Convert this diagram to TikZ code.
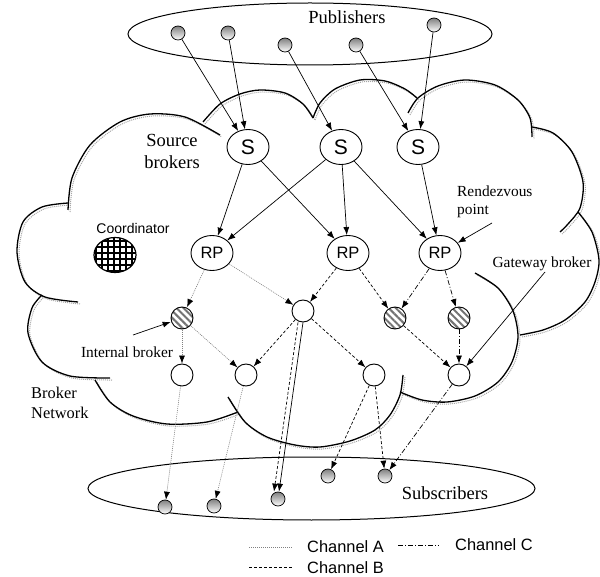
\documentclass[tikz,border=0pt]{standalone}
\usepackage{fontspec}
\setmainfont{Liberation Serif}
\setsansfont{Liberation Sans}
\usetikzlibrary{arrows.meta,shapes.geometric,patterns.meta}

\begin{document}
\begin{tikzpicture}[x=1pt,y=-1pt,
  cloudline/.style={line width=1.3pt,black},
  cloudshade/.style={line width=1pt,black!35,densely dotted},
  pubsub/.style={circle,draw,line width=0.7pt,minimum size=14pt,inner sep=0pt,top color=black!50,bottom color=white},
  brk/.style={ellipse,draw,line width=0.9pt,fill=white,minimum width=42pt,minimum height=35pt,inner sep=0pt},
  plainbrk/.style={circle,draw,line width=0.9pt,fill=white,minimum size=22pt,inner sep=0pt},
  hatchbrk/.style={circle,draw,line width=0.9pt,minimum size=22pt,inner sep=0pt,
    pattern={Lines[angle=-45,distance=5pt,line width=2pt]},pattern color=black!55},
  arr/.style={-{Latex[length=8pt,width=6pt,color=black]}},
  solidarr/.style={arr,line width=0.7pt,black},
  chanA/.style={gray,line width=0.6pt,dash pattern=on 1pt off 1pt},
  chanB/.style={black,line width=0.7pt,dash pattern=on 3pt off 2pt},
  chanC/.style={black,line width=0.7pt,dash pattern=on 5pt off 2pt on 1pt off 2pt},
  serifbig/.style={font=\fontsize{18.5}{22}\selectfont},
  serifmid/.style={font=\fontsize{15.4}{18}\selectfont},
  legendtxt/.style={font=\sffamily\fontsize{16.4}{18}\selectfont,anchor=west,inner sep=0pt}
]
\useasboundingbox (0,0) rectangle (600,577);

% publisher and subscriber groups
\draw[line width=1pt] (310,34) ellipse [x radius=182,y radius=31];
\draw[line width=1pt] (311.5,488.5) ellipse [x radius=223.5,y radius=31.5];

% broker network cloud: soft shadow first, then the outline arcs
\begin{scope}[shift={(2,2)}]
\foreach \pts in {
  {(68,210) (72,178) (90,145) (120,122) (150,114) (185,117) (220,135)},
  {(203,122) (220,104) (240,94) (260,90) (285,93) (303,104) (313,118)},
  {(313,118) (320,103) (335,89) (360,80) (385,81) (405,89) (417,98)},
  {(408,113) (418,98) (438,86) (465,80) (495,85) (518,100) (530,118) (532,137)},
  {(532,127) (553,133) (572,152) (583,182) (580,208) (568,224) (560,232)},
  {(578,212) (592,232) (599,260) (595,282) (585,302) (565,320) (543,330) (520,335)},
  {(475,273) (498,288) (513,311) (518,337) (512,362) (498,382) (475,396) (447,402) (422,400) (400,392)},
  {(403,375) (400,395) (390,415) (375,430) (350,441) (320,447) (295,445) (267,437) (245,422) (228,397)},
  {(238,412) (207,422) (167,424) (133,416) (110,402) (95,380)},
  {(110,378) (70,376) (42,362) (28,333) (32,308) (42,295)},
  {(78,302) (45,297) (25,282) (17,252) (23,222) (42,207) (68,203)}}
  \draw[cloudshade] plot[smooth] coordinates \pts;
\end{scope}
\foreach \pts in {
  {(68,210) (72,178) (90,145) (120,122) (150,114) (185,117) (220,135)},
  {(203,122) (220,104) (240,94) (260,90) (285,93) (303,104) (313,118)},
  {(313,118) (320,103) (335,89) (360,80) (385,81) (405,89) (417,98)},
  {(408,113) (418,98) (438,86) (465,80) (495,85) (518,100) (530,118) (532,137)},
  {(532,127) (553,133) (572,152) (583,182) (580,208) (568,224) (560,232)},
  {(578,212) (592,232) (599,260) (595,282) (585,302) (565,320) (543,330) (520,335)},
  {(475,273) (498,288) (513,311) (518,337) (512,362) (498,382) (475,396) (447,402) (422,400) (400,392)},
  {(403,375) (400,395) (390,415) (375,430) (350,441) (320,447) (295,445) (267,437) (245,422) (228,397)},
  {(238,412) (207,422) (167,424) (133,416) (110,402) (95,380)},
  {(110,378) (70,376) (42,362) (28,333) (32,308) (42,295)},
  {(78,302) (45,297) (25,282) (17,252) (23,222) (42,207) (68,203)}}
  \draw[cloudline] plot[smooth] coordinates \pts;

% text labels
\node[serifbig] (publab) at (347,17) {Publishers};
\node[serifbig] (sublab) at (445,493) {Subscribers};
\node[serifbig,align=center] (srclab) at (172,151) {Source\\brokers};
\node[serifmid,align=left,anchor=west,inner sep=0pt] (rplab) at (457,202) {Rendezvous\\point};
\node[serifmid] (gwlab) at (542,264) {Gateway broker};
\node[serifmid] (intlab) at (127,352) {Internal broker};
\node[font=\fontsize{16.4}{20}\selectfont,align=left,anchor=west,inner sep=0pt] (netlab) at (31,403) {Broker\\Network};
\node[font=\sffamily\fontsize{14}{16}\selectfont] (coordlab) at (133,228) {Coordinator};

% publishers
\node[pubsub] (p1) at (178,33) {};
\node[pubsub] (p2) at (228,33) {};
\node[pubsub] (p3) at (285,45) {};
\node[pubsub] (p4) at (356,45) {};
\node[pubsub] (p5) at (434,25) {};

% source brokers and rendezvous points
\node[brk,font=\sffamily\fontsize{21}{21}\selectfont] (s1) at (248,147) {S};
\node[brk,font=\sffamily\fontsize{21}{21}\selectfont] (s2) at (341,147) {S};
\node[brk,font=\sffamily\fontsize{21}{21}\selectfont] (s3) at (418,147) {S};
\node[brk,font=\sffamily\fontsize{16.5}{16.5}\selectfont] (rp1) at (212,253) {RP};
\node[brk,font=\sffamily\fontsize{16.5}{16.5}\selectfont] (rp2) at (348,253) {RP};
\node[brk,font=\sffamily\fontsize{16.5}{16.5}\selectfont] (rp3) at (440,253) {RP};

% coordinator
\node[ellipse,draw,line width=1.2pt,minimum width=42pt,minimum height=35pt,inner sep=0pt,
  pattern={Hatch[angle=0,distance=6pt,line width=1.6pt]},pattern color=black] (coord) at (115,255) {};

% internal brokers
\node[hatchbrk] (i1) at (182,318) {};
\node[plainbrk] (w1) at (303,311) {};
\node[hatchbrk] (i2) at (395,318) {};
\node[hatchbrk] (i3) at (459,318) {};
\node[plainbrk] (l1) at (182,375) {};
\node[plainbrk] (l2) at (246,375) {};
\node[plainbrk] (l3) at (374,375) {};
\node[plainbrk] (gw) at (459,375) {};

% subscribers
\node[pubsub] (b1) at (165,507) {};
\node[pubsub] (b2) at (214,506) {};
\node[pubsub] (b3) at (278,499) {};
\node[pubsub] (b4) at (328,476) {};
\node[pubsub] (b5) at (385,476) {};

% publications into the source brokers
\draw[solidarr] (p1) -- (s1);
\draw[solidarr] (p2) -- (s1);
\draw[solidarr] (p3) -- (s2);
\draw[solidarr] (p4) -- (s3);
\draw[solidarr] (p5) -- (s3);

% source brokers to rendezvous points
\draw[solidarr] (s1) -- (rp1);
\draw[solidarr] (s1) -- (rp2);
\draw[solidarr] (s2) -- (rp1);
\draw[solidarr] (s2) -- (rp2);
\draw[solidarr] (s2) -- (rp3);
\draw[solidarr] (s3) -- (rp3);

% channel A
\draw[chanA,arr] (rp1) -- (i1);
\draw[chanA,arr] (rp1) -- (w1);
\draw[chanA,arr] (i1) -- (l1);
\draw[chanA,arr] (i1) -- (l2);
\draw[chanA,arr] (l1) -- (b1);
\draw[chanA,arr] (l2) -- (b2);

% channel B
\draw[chanB,arr] (rp2) -- (w1);
\draw[chanB,arr] (rp2) -- (i2);
\draw[chanB,arr] (w1) -- (l2);
\draw[chanB,arr] (w1) -- (l3);
\draw[chanB,arr] ([xshift=-5pt]w1.south) -- ([xshift=-4pt]b3.north);
\draw[solidarr] (w1.south) -- ([xshift=1pt]b3.north);
\draw[chanB,arr] (i2) -- (gw);
\draw[chanB,arr] (l3) -- (b4);
\draw[chanB,arr] (l3) -- (b5);

% channel C
\draw[chanC,arr] (rp3) -- (i2);
\draw[chanC,arr] (rp3) -- (i3);
\draw[chanC,arr] (i3) -- (gw);
\draw[chanC,arr] (gw) -- (b5);

% callouts
\coordinate (rpfrom) at (492,223);
\coordinate (gwfrom) at (545,272);
\coordinate (intfrom) at (133,335);
\draw[solidarr] (rpfrom) -- (rp3);
\draw[solidarr] (gwfrom) -- (gw);
\draw[solidarr] (intfrom) -- (i1);

% legend
\coordinate (la0) at (249,547); \coordinate (la1) at (292,547);
\coordinate (lb0) at (249,567); \coordinate (lb1) at (292,567);
\coordinate (lc0) at (398,545); \coordinate (lc1) at (439,545);
\draw[chanA] (la0) -- (la1);
\draw[chanB] (lb0) -- (lb1);
\draw[chanC] (lc0) -- (lc1);
\node[legendtxt] (leta) at (307,547) {Channel A};
\node[legendtxt] (letb) at (307,568) {Channel B};
\node[legendtxt] (letc) at (455,545) {Channel C};
\end{tikzpicture}
\end{document}
